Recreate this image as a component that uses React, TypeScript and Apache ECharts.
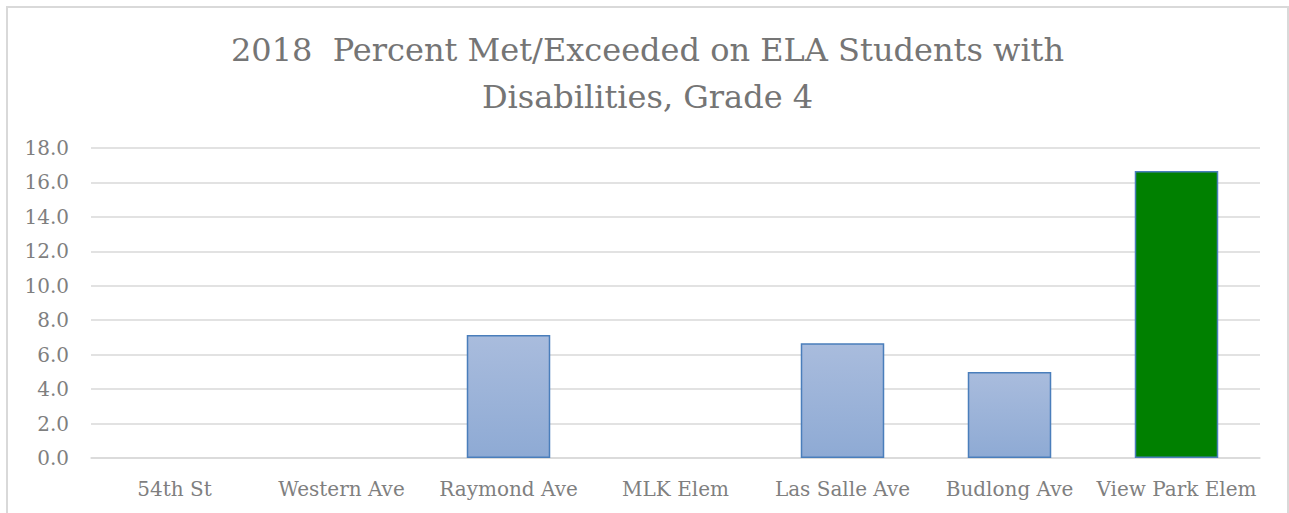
import React, { useEffect, useRef } from "react";
import * as echarts from "echarts";

const titleLines = ["2018  Percent Met/Exceeded on ELA Students with", "Disabilities, Grade 4"];
const categories = ["54th St", "Western Ave", "Raymond Ave", "MLK Elem", "Las Salle Ave", "Budlong Ave", "View Park Elem"];
const values = [0, 0, 7.14, 0, 6.67, 5.0, 16.67];
const highlighted = ["View Park Elem"];
const yMin = 0;
const yMax = 18;
const yStep = 2;

const FONT = "DejaVu Serif";

export default function App() {
  const ref = useRef<HTMLDivElement>(null);
  useEffect(() => {
    document.body.style.overflow = "hidden";
    const chart = echarts.init(ref.current!, null, { renderer: "svg" });
    const blueGrad = new echarts.graphic.LinearGradient(0, 0, 0, 1, [
      { offset: 0, color: "#a9bcdd" },
      { offset: 1, color: "#8eaad4" },
    ]);
    chart.setOption({
      animation: false,
      title: {
        text: titleLines.join("\n"),
        left: "center",
        top: 13,
        textStyle: {
          fontFamily: FONT,
          fontSize: 32,
          fontWeight: "normal",
          color: "#757575",
          lineHeight: 47,
        },
      },
      grid: { left: 83, right: 27, top: 140, bottom: 57, containLabel: false },
      xAxis: {
        type: "category",
        data: categories,
        axisLine: { show: true, lineStyle: { color: "#d9d9d9", width: 1.5 } },
        axisTick: { show: false },
        axisLabel: { fontFamily: FONT, fontSize: 20, color: "#7f7f7f", margin: 21, interval: 0 },
      },
      yAxis: {
        type: "value",
        min: yMin,
        max: yMax,
        interval: yStep,
        axisLine: { show: false },
        axisTick: { show: false },
        splitLine: { lineStyle: { color: "#d9d9d9", width: 1.5 } },
        axisLabel: {
          fontFamily: FONT,
          fontSize: 20,
          color: "#7f7f7f",
          margin: 22,
          formatter: (v: number) => v.toFixed(1),
        },
      },
      series: [
        {
          type: "bar",
          barWidth: "50%",
          data: values.map((v, i) => ({
            value: v,
            itemStyle: {
              color: highlighted.includes(categories[i]) ? "#008000" : blueGrad,
              borderColor: "#4a7ebb",
              borderWidth: v === 0 ? 0 : 1.5,
            },
          })),
        },
      ],
    });
    return () => chart.dispose();
  }, []);
  return (
    <div
      style={{
        position: "absolute",
        left: 6,
        top: 6,
        width: 1283,
        height: 520,
        boxSizing: "border-box",
        border: "2px solid #d9d9d9",
      }}
    >
      <div ref={ref} style={{ width: 1279, height: 507 }} />
    </div>
  );
}
